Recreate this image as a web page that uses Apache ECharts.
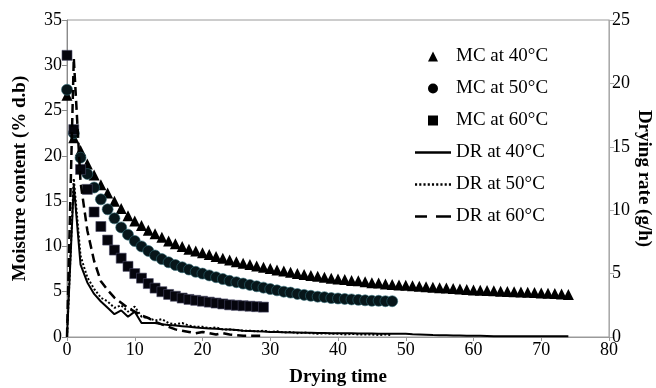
<!DOCTYPE html>
<html>
<head>
<meta charset="utf-8">
<title>Drying curves</title>
<script src="https://cdn.jsdelivr.net/npm/echarts@6/dist/echarts.min.js"></script>
<style>
html, body { margin: 0; padding: 0; background: #fff; }
#chart { width: 656px; height: 388px; }
</style>
</head>
<body>
<div id="chart"></div>
<script>
// moisture content (% d.b), one reading per unit of drying time, starting at 0
const mc40 = [26.7, 22.0, 20.6, 19.1, 17.9, 16.8, 15.9, 15.0, 14.2, 13.4,
    12.8, 12.3, 11.8, 11.4, 11.0, 10.6, 10.3, 10.0, 9.7, 9.5,
    9.3, 9.1, 8.9, 8.7, 8.5, 8.3, 8.15, 8.0, 7.85, 7.7,
    7.55, 7.4, 7.3, 7.15, 7.0, 6.9, 6.8, 6.7, 6.6, 6.5,
    6.4, 6.35, 6.25, 6.2, 6.1, 6.0, 5.95, 5.85, 5.8, 5.75,
    5.7, 5.65, 5.6, 5.55, 5.5, 5.45, 5.4, 5.35, 5.3, 5.25,
    5.2, 5.17, 5.13, 5.1, 5.06, 5.03, 5.0, 4.97, 4.93, 4.9,
    4.86, 4.83, 4.8, 4.75, 4.7]
const mc50 = [27.3, 22.5, 19.8, 18.0, 16.5, 15.2, 14.1, 13.1, 12.1, 11.3,
    10.6, 10.0, 9.5, 9.0, 8.6, 8.25, 7.95, 7.7, 7.45, 7.2,
    7.0, 6.8, 6.6, 6.4, 6.2, 6.05, 5.9, 5.75, 5.6, 5.45,
    5.3, 5.15, 5.0, 4.9, 4.75, 4.65, 4.55, 4.45, 4.4, 4.3,
    4.25, 4.2, 4.15, 4.1, 4.05, 4.0, 4.0, 3.95, 3.95]
const mc60 = [31.1, 22.9, 18.5, 16.3, 13.8, 12.2, 10.7, 9.6, 8.7, 7.8,
    7.0, 6.5, 5.9, 5.4, 5.0, 4.7, 4.5, 4.3, 4.15, 4.05,
    3.95, 3.85, 3.75, 3.65, 3.55, 3.5, 3.45, 3.4, 3.35, 3.3]

// drying rate (g/h)
const dr40 = [0, 12.0, 5.7, 4.3, 3.4, 2.8, 2.3, 1.8, 2.1, 1.6,
    2.0, 1.1, 1.1, 1.1, 1.0, 0.95, 0.9, 0.85, 0.8, 0.75,
    0.7, 0.68, 0.65, 0.62, 0.6, 0.55, 0.5, 0.48, 0.45, 0.43,
    0.4, 0.4, 0.38, 0.36, 0.35, 0.34, 0.33, 0.32, 0.31, 0.3,
    0.3, 0.3, 0.29, 0.28, 0.28, 0.27, 0.26, 0.26, 0.25, 0.25,
    0.25, 0.22, 0.2, 0.18, 0.15, 0.14, 0.13, 0.12, 0.11, 0.1,
    0.1, 0.09, 0.08, 0.06, 0.05, 0.05, 0.05, 0.05, 0.05, 0.05,
    0.05, 0.05, 0.05, 0.05, 0.05]
const dr50 = [0, 12.5, 6.4, 4.7, 3.8, 3.1, 2.8, 2.3, 2.5, 2.0,
    2.4, 1.6, 1.5, 1.3, 1.4, 1.1, 1.0, 1.1, 0.9, 0.8,
    0.8, 0.7, 0.75, 0.6, 0.6, 0.55, 0.5, 0.5, 0.45, 0.5,
    0.4, 0.45, 0.35, 0.4, 0.3, 0.35, 0.3, 0.25, 0.3, 0.25,
    0.25, 0.2, 0.25, 0.2, 0.2, 0.2, 0.15, 0.2, 0.15]
const dr60 = [0, 22.0, 12.2, 8.4, 6.0, 4.4, 3.7, 3.1, 2.7, 2.3,
    2.0, 1.7, 1.5, 1.2, 1.0, 0.8, 0.6, 0.5, 0.4, 0.3,
    0.4, 0.3, 0.2, 0.3, 0.2, 0.15, 0.1, 0.1, 0.1, 0.1]

const serif = 'Liberation Serif'

// readings are taken once per time unit, so the index is the drying time
function points (arr) {
    return arr.map((v, i) => [i, v])
}

// legend icons: marker shapes and line samples (solid / dotted / dashed)
const iconTriangle = 'path://M5,0L10,10L0,10Z'
const iconCircle = 'path://M5,0A5,5 0 1,1 5,10A5,5 0 1,1 5,0Z'
const iconSquare = 'path://M0,0H10V10H0Z'
const iconSolid = 'path://M0,0H36V2.5H0Z'
const iconDotted = 'path://M0,0h2v2.5h-2Z M4,0h2v2.5h-2Z M8,0h2v2.5h-2Z M12,0h2v2.5h-2Z M16,0h2v2.5h-2Z M20,0h2v2.5h-2Z M24,0h2v2.5h-2Z M28,0h2v2.5h-2Z M32,0h2v2.5h-2Z'
const iconDashed = 'path://M0,0H12V2.6H0Z M21,0H36V2.6H21Z'

let myChart = echarts.init(document.getElementById('chart'))
myChart.setOption({
    animation: false,
    grid: {
        left: 67,
        right: 47,
        top: 20,
        bottom: 51,
        outerBoundsMode: 'none',
        show: true,
        borderColor: '#9a9a9a',
        borderWidth: 1,
    },
    legend: {
        orient: 'vertical',
        left: 415,
        top: 47,
        padding: 0,
        itemWidth: 36,
        itemHeight: 10,
        itemGap: 13,
        itemStyle: { color: '#000', borderWidth: 0 },
        textStyle: { fontFamily: serif, fontSize: 19, color: '#000' },
        data: [
            { name: 'MC at 40°C', icon: iconTriangle },
            { name: 'MC at 50°C', icon: iconCircle },
            { name: 'MC at 60°C', icon: iconSquare },
            { name: 'DR at 40°C', icon: iconSolid },
            { name: 'DR at 50°C', icon: iconDotted },
            { name: 'DR at 60°C', icon: iconDashed },
        ],
    },
    xAxis: {
        type: 'value',
        min: 0,
        max: 80,
        interval: 10,
        name: 'Drying time',
        nameLocation: 'middle',
        nameGap: 31,
        nameMoveOverlap: false,
        nameTextStyle: { fontFamily: serif, fontSize: 19, fontWeight: 'bold', color: '#000' },
        axisLine: { show: true, lineStyle: { color: '#9a9a9a' } },
        axisTick: { show: true, length: 4, lineStyle: { color: '#9a9a9a' } },
        axisLabel: { fontFamily: serif, fontSize: 18, color: '#000', margin: 4 },
        splitLine: { show: false },
    },
    yAxis: [
        {
            type: 'value',
            min: 0,
            max: 35,
            interval: 5,
            name: 'Moisture content (% d.b)',
            nameLocation: 'middle',
            nameGap: 37,
            nameMoveOverlap: false,
            nameTextStyle: { fontFamily: serif, fontSize: 19, fontWeight: 'bold', color: '#000' },
            axisLine: { show: true, lineStyle: { color: '#8a8a8a' } },
            axisTick: { show: true, length: 5, lineStyle: { color: '#8a8a8a' } },
            axisLabel: { fontFamily: serif, fontSize: 18, color: '#000', margin: 5 },
            splitLine: { show: false },
        },
        {
            type: 'value',
            position: 'right',
            min: 0,
            max: 25,
            interval: 5,
            name: 'Drying rate (g/h)',
            nameLocation: 'middle',
            nameRotate: -90,
            nameGap: 25,
            nameMoveOverlap: false,
            nameTextStyle: { fontFamily: serif, fontSize: 19, fontWeight: 'bold', color: '#000' },
            axisLine: { show: true, lineStyle: { color: '#aaaaaa' } },
            axisTick: { show: true, length: 5, lineStyle: { color: '#aaaaaa' } },
            axisLabel: { fontFamily: serif, fontSize: 18, color: '#000', margin: 3 },
            splitLine: { show: false },
        },
    ],
    series: [
        {
            name: 'MC at 40°C',
            type: 'scatter',
            symbol: 'triangle',
            symbolSize: [11, 11],
            itemStyle: { color: '#000', opacity: 1 },
            data: points(mc40),
        },
        {
            name: 'MC at 50°C',
            type: 'scatter',
            symbol: 'circle',
            symbolSize: 11,
            itemStyle: { color: '#07161a', borderColor: '#2f6a75', borderWidth: 0.6, opacity: 1 },
            data: points(mc50),
        },
        {
            name: 'MC at 60°C',
            type: 'scatter',
            symbol: 'rect',
            symbolSize: 10,
            itemStyle: { color: '#05050d', borderColor: '#4a4a66', borderWidth: 0.6, opacity: 1 },
            data: points(mc60),
        },
        {
            name: 'DR at 40°C',
            type: 'line',
            yAxisIndex: 1,
            symbol: 'none',
            lineStyle: { color: '#000', width: 2, type: 'solid' },
            itemStyle: { color: '#000' },
            data: points(dr40),
        },
        {
            name: 'DR at 50°C',
            type: 'line',
            yAxisIndex: 1,
            symbol: 'none',
            lineStyle: { color: '#000', width: 2, type: [2, 2] },
            itemStyle: { color: '#000' },
            data: points(dr50),
        },
        {
            name: 'DR at 60°C',
            type: 'line',
            yAxisIndex: 1,
            symbol: 'none',
            lineStyle: { color: '#000', width: 2.5, type: [9, 5] },
            itemStyle: { color: '#000' },
            data: points(dr60),
        },
    ],
})
window.addEventListener('resize', function () {
    myChart.resize()
})
</script>
</body>
</html>
